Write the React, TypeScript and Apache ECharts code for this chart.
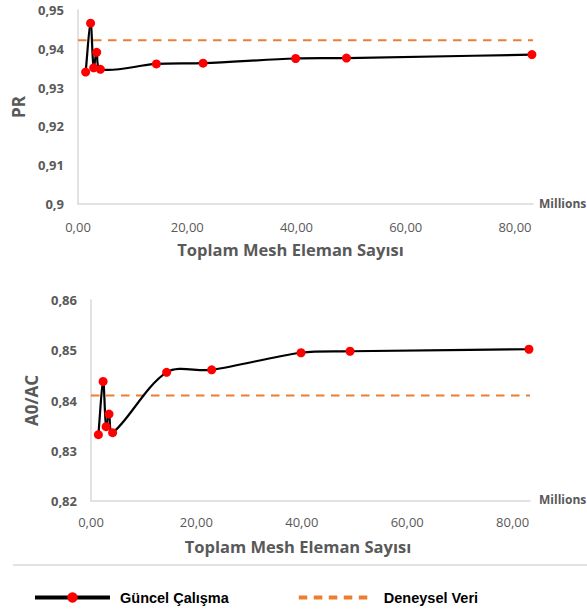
import React, { useEffect, useRef } from "react";
import * as echarts from "echarts";

// Total mesh element count (millions)
const meshCounts = [1.4, 2.3, 2.87, 3.42, 4.1, 14.35, 22.9, 39.85, 49.15, 83.1];
// Pressure recovery (PR) from the current study
const prValues = [0.934, 0.9466, 0.9351, 0.9391, 0.9347, 0.9361, 0.9363, 0.9375, 0.9376, 0.9385];
// Area ratio A0/AC from the current study
const a0acValues = [0.8332, 0.8438, 0.8348, 0.8373, 0.8336, 0.8456, 0.8461, 0.8495, 0.8498, 0.8502];
// Experimental reference levels
const prExperimental = 0.9422;
const a0acExperimental = 0.841;

const xMin = 0;
const xMax = 83.3;
const xTickStep = 20;

const seriesName = "Güncel Çalışma";
const refName = "Deneysel Veri";
const xTitle = "Toplam Mesh Eleman Sayısı";

const GRAY = "#595959";
const AXIS = "#d9d9d9";
const FONT = "'Open Sans', sans-serif";

const decimalComma = (v: number) => String(Number(v.toFixed(4))).replace(".", ",");

// Spreadsheet-style smoothed curve: each segment is a cubic Bezier whose
// control points follow the neighbouring points, weighted by segment length.
const TENSION = 1 / 3;

function smoothCurve(values: number[]) {
  const data = meshCounts.map((x, i) => [x, values[i]]);
  return {
    type: "custom" as const,
    data,
    encode: { x: 0, y: 1 },
    silent: true,
    z: 2,
    renderItem: (params: any, api: any) => {
      const i = params.dataIndex;
      const n = data.length;
      if (i >= n - 1) return null;
      const pt = (k: number) => api.coord(data[Math.max(0, Math.min(n - 1, k))]);
      const p0 = pt(i - 1);
      const p1 = pt(i);
      const p2 = pt(i + 1);
      const p3 = pt(i + 2);
      const d = (a: number[], b: number[]) => Math.hypot(b[0] - a[0], b[1] - a[1]);
      const d01 = d(p0, p1);
      const d12 = d(p1, p2);
      const d23 = d(p2, p3);
      const r1 = d01 + d12 > 0 ? d12 / (d01 + d12) : 0.5;
      const r2 = d12 + d23 > 0 ? d12 / (d12 + d23) : 0.5;
      const c1x = p1[0] + (p2[0] - p0[0]) * TENSION * r1;
      const c1y = p1[1] + (p2[1] - p0[1]) * TENSION * r1;
      const c2x = p2[0] - (p3[0] - p1[0]) * TENSION * r2;
      const c2y = p2[1] - (p3[1] - p1[1]) * TENSION * r2;
      return {
        type: "bezierCurve",
        shape: {
          x1: p1[0],
          y1: p1[1],
          cpx1: c1x,
          cpy1: c1y,
          cpx2: c2x,
          cpy2: c2y,
          x2: p2[0],
          y2: p2[1],
        },
        style: { stroke: "#000000", lineWidth: 2.2, fill: null, lineCap: "round" },
      };
    },
  };
}

function App() {
  const ref = useRef<HTMLDivElement>(null);

  useEffect(() => {
    if (!ref.current) return;
    const chart = echarts.init(ref.current, undefined, { renderer: "svg" });

    const xAxisBase = (gridIndex: number, shift: number, labelMargin: number) => ({
      type: "value" as const,
      gridIndex,
      min: xMin,
      max: xMax,
      interval: xTickStep,
      axisLine: { show: true, lineStyle: { color: AXIS, width: 1.5 } },
      axisTick: { show: false },
      splitLine: { show: false },
      axisLabel: {
        showMaxLabel: false,
        margin: labelMargin,
        color: GRAY,
        fontFamily: FONT,
        fontSize: 13,
        formatter: (v: number) => v.toFixed(2).replace(".", ","),
      },
      name: xTitle,
      nameLocation: "middle" as const,
      nameGap: 37,
      nameTextStyle: {
        color: GRAY,
        fontFamily: FONT,
        fontSize: 16.5,
        fontWeight: "bold" as const,
        padding: [0, shift, 0, 0],
      },
    });

    const yAxisBase = (gridIndex: number, min: number, max: number, name: string, gap: number) => ({
      type: "value" as const,
      gridIndex,
      min,
      max,
      interval: 0.01,
      axisLine: { show: true, lineStyle: { color: AXIS, width: 1.5 } },
      axisTick: { show: false },
      splitLine: { show: false },
      axisLabel: {
        margin: 14,
        color: GRAY,
        fontFamily: FONT,
        fontSize: 13,
        fontWeight: "bold" as const,
        formatter: decimalComma,
      },
      name,
      nameLocation: "middle" as const,
      nameRotate: 90,
      nameGap: gap,
      nameTextStyle: {
        color: GRAY,
        fontFamily: FONT,
        fontSize: 17,
        fontWeight: "bold" as const,
      },
    });

    // markers of the study (the curve itself is drawn by smoothCurve)
    const studyMarkers = (idx: number, values: number[]) => ({
      name: seriesName,
      type: "line" as const,
      xAxisIndex: idx,
      yAxisIndex: idx,
      data: meshCounts.map((x, i) => [x, values[i]]),
      symbol: "circle",
      symbolSize: 9,
      z: 4,
      lineStyle: { color: "#000000", width: 2.2, opacity: 0 },
      itemStyle: { color: "#ff0000", borderWidth: 0 },
    });

    const curve = (idx: number, values: number[]) => ({
      ...smoothCurve(values),
      xAxisIndex: idx,
      yAxisIndex: idx,
    });

    const refSeries = (idx: number, level: number) => ({
      name: refName,
      type: "line" as const,
      xAxisIndex: idx,
      yAxisIndex: idx,
      data: [
        [xMin, level],
        [xMax, level],
      ],
      symbol: "none",
      z: 1,
      lineStyle: { color: "#ed7d31", width: 2.2, type: [8.5, 6.5] },
      itemStyle: { color: "#ed7d31" },
    });

    chart.setOption({
      animation: false,
      backgroundColor: "#ffffff",
      grid: [
        { left: 78, right: 54, top: 10, height: 194 },
        { left: 91, right: 57, top: 300, height: 201 },
      ],
      xAxis: [xAxisBase(0, 30, 16), xAxisBase(1, 25, 14)],
      yAxis: [
        yAxisBase(0, 0.9, 0.95, "PR", 45),
        yAxisBase(1, 0.82, 0.86, "A0/AC", 42),
      ],
      legend: {
        left: 28,
        top: 585,
        itemWidth: 75,
        itemHeight: 13,
        itemGap: 68,
        lineStyle: { width: 4 },
        textStyle: {
          color: "#000000",
          fontFamily: "'Liberation Sans', Arial, sans-serif",
          fontSize: 14.5,
          fontWeight: "bold",
          padding: [0, 0, 0, 5],
        },
        data: [
          { name: seriesName, lineStyle: { opacity: 1, color: "#000000", width: 4 } },
          { name: refName, itemStyle: { opacity: 0 } },
        ],
      },
      graphic: [
        {
          type: "text",
          left: 539,
          top: 197,
          style: { text: "Millions", fill: GRAY, font: `bold 12px ${FONT}` },
        },
        {
          type: "text",
          left: 539,
          top: 493,
          style: { text: "Millions", fill: GRAY, font: `bold 12px ${FONT}` },
        },
        {
          type: "line",
          shape: { x1: 13, y1: 565, x2: 587, y2: 565 },
          style: { stroke: AXIS, lineWidth: 1.5 },
        },
      ],
      series: [
        refSeries(0, prExperimental),
        curve(0, prValues),
        studyMarkers(0, prValues),
        refSeries(1, a0acExperimental),
        curve(1, a0acValues),
        studyMarkers(1, a0acValues),
      ],
    });

    return () => chart.dispose();
  }, []);

  return (
    <div
      ref={ref}
      style={{ position: "fixed", left: 0, top: 0, width: 587, height: 612, background: "#fff" }}
    />
  );
}

export default App;
